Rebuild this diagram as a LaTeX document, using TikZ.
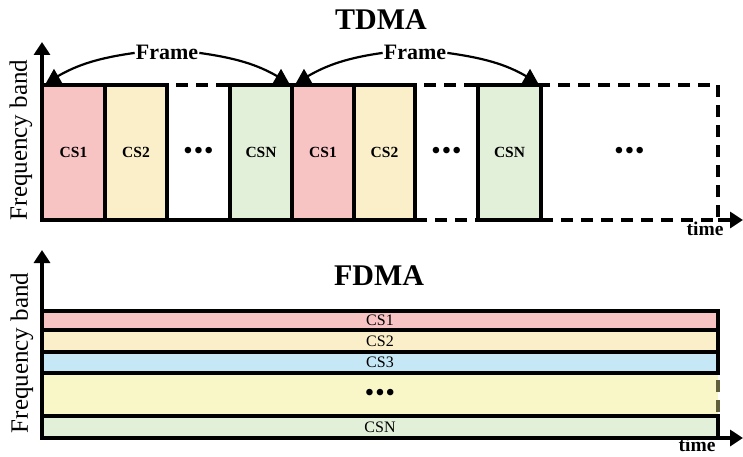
\documentclass[tikz,border=0pt]{standalone}
\usepackage{fontspec}
\setmainfont{Liberation Serif}
\usetikzlibrary{arrows.meta}

\definecolor{cspink}{RGB}{248,195,195}
\definecolor{csbeige}{RGB}{251,239,201}
\definecolor{csblue}{RGB}{198,232,246}
\definecolor{csyellow}{RGB}{249,246,200}
\definecolor{csgreen}{RGB}{226,239,217}
\definecolor{olivedash}{RGB}{95,95,60}

\newcommand{\threedots}{\textbullet\hspace{2pt}\textbullet\hspace{2pt}\textbullet}

\begin{document}
\begin{tikzpicture}[x=1pt,y=1pt,
  slotbox/.style={draw=black, line width=3.4pt, inner sep=0pt, outer sep=0pt,
    minimum height=135pt, font=\fontsize{15.5}{17}\selectfont\bfseries},
  gapbox/.style={slotbox, dash pattern=on 12pt off 8pt},
  bandbox/.style={draw=black, line width=3.4pt, inner sep=0pt, outer sep=0pt,
    minimum width=676pt, font=\fontsize{16}{18}\selectfont},
  gapband/.style={bandbox, dash pattern=on 12pt off 8pt},
  axisline/.style={line width=3.4pt},
  axisarrow/.style={line width=3.4pt, -{Triangle[length=13pt,width=16pt]}},
  framearrow/.style={line width=2.2pt, -{Triangle[length=14pt,width=16pt]}},
  title/.style={font=\fontsize{30}{32}\selectfont\bfseries, anchor=base},
  framelbl/.style={font=\fontsize{22}{24}\selectfont\bfseries, inner sep=1pt, anchor=base},
  timelbl/.style={font=\fontsize{19.5}{22}\selectfont\bfseries, anchor=base},
  freqlbl/.style={font=\fontsize{25}{27}\selectfont, rotate=90},
  dotsfont/.style={font=\fontsize{24}{26}\selectfont\bfseries}
]
\useasboundingbox (0,0) rectangle (743,456);

% ---------------- TDMA ----------------
\node[title] (tdma) at (381,426) {TDMA};

% idle slots (dashed) first, so solid slot edges sit on top
\node[gapbox, minimum width=63pt, dotsfont] (t3) at (198.5,303.5) {\threedots};
\node[gapbox, minimum width=63pt, dotsfont] (t7) at (446.5,303.5) {\threedots};
\node[gapbox, minimum width=177pt, dotsfont] (t9) at (629.5,303.5) {\threedots};

\node[slotbox, fill=cspink,  minimum width=63pt] (t1) at (73.5,303.5) {CS1};
\node[slotbox, fill=csbeige, minimum width=62pt] (t2) at (136,303.5) {CS2};
\node[slotbox, fill=csgreen, minimum width=62pt] (t4) at (261,303.5) {CSN};
\node[slotbox, fill=cspink,  minimum width=62pt] (t5) at (323,303.5) {CS1};
\node[slotbox, fill=csbeige, minimum width=61pt] (t6) at (384.5,303.5) {CS2};
\node[slotbox, fill=csgreen, minimum width=63pt] (t8) at (509.5,303.5) {CSN};

% axes
\coordinate (tytip) at (42,414);
\coordinate (txtip) at (743,236);
\draw[axisline] (t1.south west) -- (t6.south east);
\draw[axisarrow] (t1.south west) -- (tytip);
\draw[axisarrow] (t9.south east) -- (txtip);

\node[timelbl] (ttime) at (705,221) {time};
\node[freqlbl] (tfreq) at (21,316) {Frequency band};

% frame markers
\node[framelbl] (f1) at (167,396) {Frame};
\node[framelbl] (f2) at (415,396) {Frame};
\draw[framearrow] (f1.west) to[out=188,in=30] ([xshift=4pt,yshift=2pt]t1.north west);
\draw[framearrow] (f1.east) to[out=-8,in=150] ([xshift=-3pt,yshift=2pt]t4.north east);
\draw[framearrow] (f2.west) to[out=188,in=30] ([xshift=4pt,yshift=2pt]t5.north west);
\draw[framearrow] (f2.east) to[out=-8,in=150] ([xshift=-3pt,yshift=2pt]t8.north east);

% ---------------- FDMA ----------------
\node[title] (fdma) at (379,171) {FDMA};

\node[gapband, draw=olivedash, fill=csyellow, minimum height=43pt, dotsfont] (b4) at (380,61.5) {\threedots};
\node[bandbox, fill=cspink,  minimum height=19pt] (b1) at (380,135.5) {CS1};
\node[bandbox, fill=csbeige, minimum height=22pt] (b2) at (380,115) {CS2};
\node[bandbox, fill=csblue,  minimum height=21pt] (b3) at (380,93.5) {CS3};
\node[bandbox, fill=csgreen, minimum height=22pt] (b5) at (380,29) {CSN};
\draw[line width=3.4pt, dash pattern=on 12pt off 8pt] (b4.south west) -- (b4.south east);

\coordinate (bytip) at (42,206);
\coordinate (bxtip) at (743,18);
\draw[axisarrow] (b5.south west) -- (bytip);
\draw[axisarrow] (b5.south east) -- (bxtip);

\node[timelbl] (btime) at (697,5) {time};
\node[freqlbl] (bfreq) at (22,103) {Frequency band};
\end{tikzpicture}
\end{document}
